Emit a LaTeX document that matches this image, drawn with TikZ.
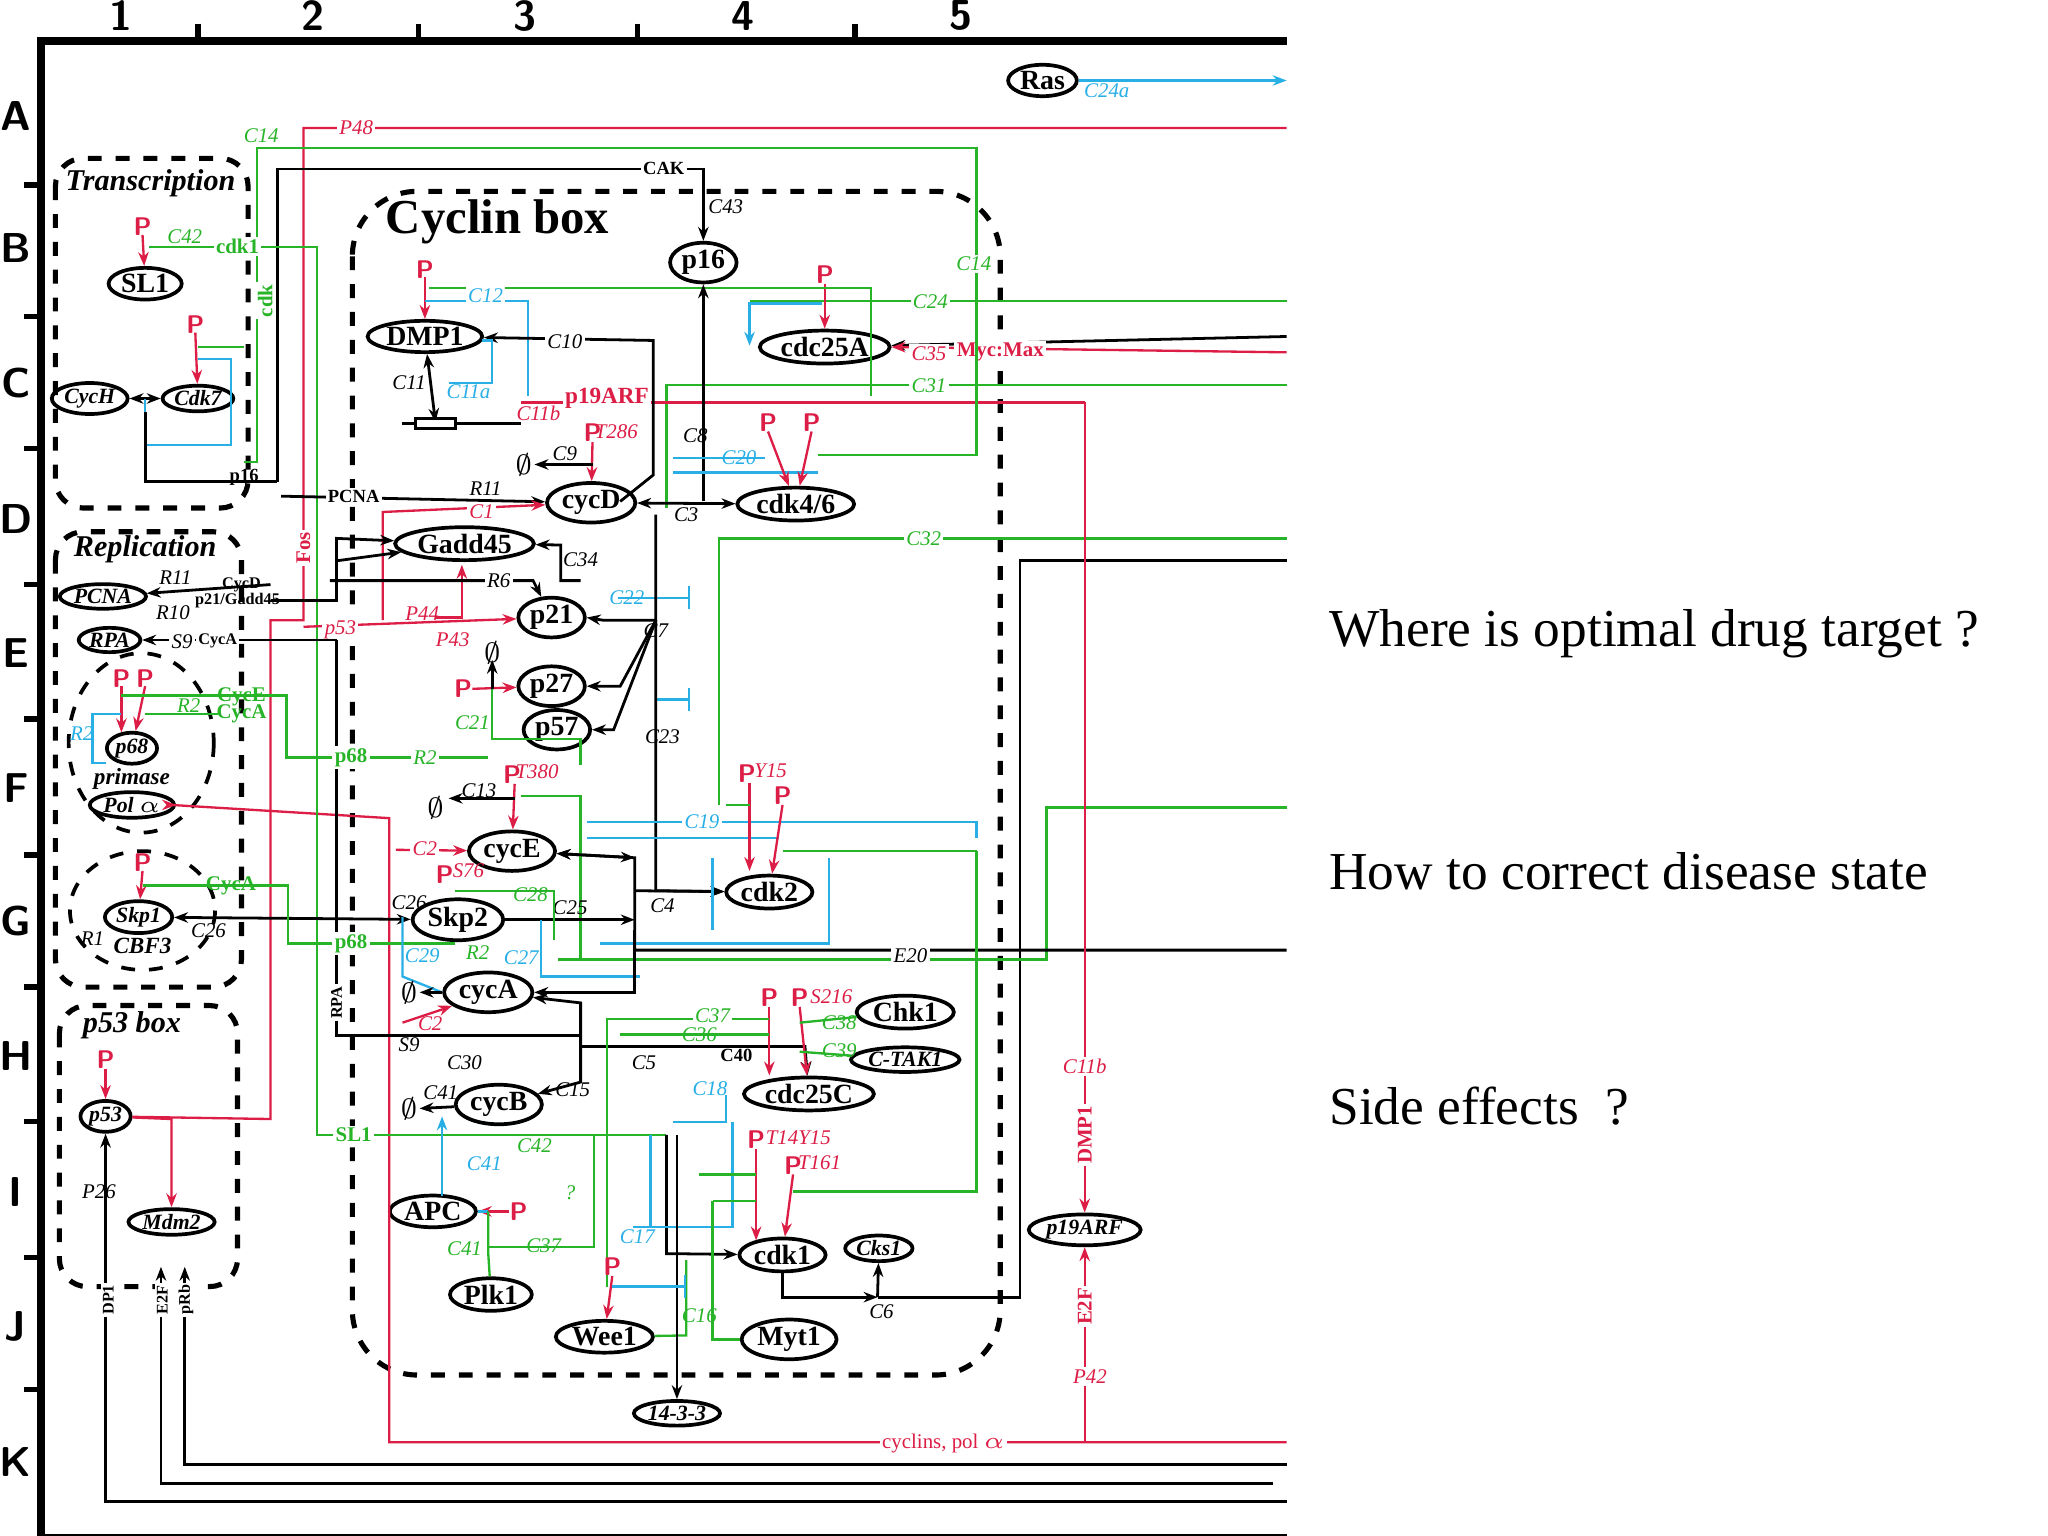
\documentclass[tikz,border=0pt]{standalone}
\usepackage{fontspec}
\setmainfont{Liberation Serif}
\usetikzlibrary{shapes.geometric,arrows.meta}
\definecolor{rr}{RGB}{220,30,70}
\definecolor{gg}{RGB}{40,180,40}
\definecolor{cc}{RGB}{40,175,230}
\newcommand{\degr}{$\emptyset$}
\tikzset{
 nd/.style={ellipse,draw,thick,inner sep=0.4pt,font=\fontsize{6}{7}\selectfont\bfseries},
 ndi/.style={ellipse,draw,thick,inner sep=0.3pt,font=\fontsize{4.7}{6}\selectfont\bfseries\itshape},
 lb/.style={font=\fontsize{4.5}{5}\selectfont\itshape,inner sep=0.5pt},
 lbr/.style={lb,text=rr},lbg/.style={lb,text=gg},lbc/.style={lb,text=cc},
 P/.style={text=rr,font=\fontsize{5.5}{6}\selectfont\bfseries\sffamily,inner sep=0.5pt},
 bl/.style={draw,line width=0.6pt,-{Stealth[length=3pt]}},
 rl/.style={draw=rr,line width=0.5pt,-{Stealth[length=3pt,open]}},
 gl/.style={draw=gg,line width=0.5pt},
 cl/.style={draw=cc,line width=0.5pt},
 dg/.style={font=\fontsize{6}{6}\selectfont,inner sep=0pt},
 box/.style={draw,dashed,line width=1.1pt,rounded corners=6pt},
 big/.style={font=\fontsize{11.5}{13}\selectfont,anchor=west},
 ax/.style={font=\fontsize{9}{10}\selectfont\bfseries\sffamily}
}
\begin{document}
\begin{tikzpicture}[x=0.01cm,y=-0.01cm]
\useasboundingbox[fill=white] (0,0) rectangle (1552,1164);
% frame
\draw[line width=1.6pt] (975,31) -- (31,31) -- (31,1165) -- (975,1165);
\foreach \x in {150,317,483,648} \draw[line width=1.2pt] (\x,18) -- (\x,31);
\foreach \y in {140,240,340,443,545,648,748,850,953,1053} \draw[line width=1.2pt] (18,\y) -- (31,\y);
\foreach \t/\x in {1/92,2/237,3/398,4/563,5/728} \node[ax] at (\x,12) {\t};
\foreach \t/\y in {A/88,B/188,C/290,D/393,E/495,F/597,G/698,H/800,I/903,J/1005,K/1108} \node[ax] at (12,\y) {\t};
% boxes
\draw[box] (42,120) rectangle (188,385);
\draw[box] (42,403) rectangle (183,748);
\draw[box] (45,762) rectangle (180,975);
\draw[box,rounded corners=14pt] (267,145) rectangle (758,1042);
\draw[dashed,thick] (107,563) ellipse (55 and 68);
\draw[dashed,thick] (108,690) ellipse (55 and 45);
\node[font=\fontsize{6.5}{7}\selectfont\bfseries\itshape] at (114,139) {Transcription};
\node[font=\fontsize{6.5}{7}\selectfont\bfseries\itshape] at (110,416) {Replication};
\node[font=\fontsize{6.5}{7}\selectfont\bfseries\itshape] at (100,777) {p53 box};
\node[font=\fontsize{10.5}{12}\selectfont\bfseries,anchor=west] at (280,168) {Cyclin box};
% right texts
\node[big] at (995,480) {Where is optimal drug target ?};
\node[big] at (995,660) {How to correct disease state};
\node[big] at (995,838) {Side effects\ \ ?};
% nodes
\node[nd] (Ras) at (790,61) {Ras};
\node[nd] (SL1) at (110,215) {SL1};
\node[ndi] (CycH) at (68,302) {CycH};
\node[ndi] (Cdk7) at (150,302) {Cdk7};
\node[nd] (DMP1) at (322,255) {DMP1};
\node[nd] (p16) at (533,199) {p16};
\node[nd] (cdc25A) at (625,263) {cdc25A};
\node[nd] (cycD) at (448,381) {cycD};
\node[nd] (cdk46) at (603,382) {cdk4/6};
\node[nd] (Gadd45) at (352,412) {Gadd45};
\node[nd] (p21) at (418,468) {p21};
\node[nd] (p27) at (418,520) {p27};
\node[nd] (p57) at (422,553) {p57};
\node[ndi] (PCNA) at (78,452) {PCNA};
\node[ndi] (RPA) at (83,485) {RPA};
\node[ndi] (p68) at (100,567) {p68};
\node[font=\fontsize{5}{6}\selectfont\bfseries\itshape] at (100,590) {primase};
\node[ndi] (Pol) at (100,610) {Pol $\alpha$};
\node[nd] (cycE) at (388,645) {cycE};
\node[nd] (cdk2) at (583,676) {cdk2};
\node[nd] (Skp2) at (347,697) {Skp2};
\node[ndi] (Skp1) at (105,695) {Skp1};
\node[font=\fontsize{5}{6}\selectfont\bfseries\itshape] at (108,717) {CBF3};
\node[lb] at (70,711) {R1};
\node[nd] (cycA) at (370,752) {cycA};
\node[nd] (Chk1) at (686,767) {Chk1};
\node[ndi] (CTAK) at (686,803) {C-TAK1};
\node[nd] (cdc25C) at (613,829) {cdc25C};
\node[nd] (cycB) at (378,837) {cycB};
\node[ndi] (p53) at (80,846) {p53};
\node[ndi] (Mdm2) at (130,926) {Mdm2};
\node[nd] (APC) at (328,918) {APC};
\node[nd] (Plk1) at (372,981) {Plk1};
\node[nd] (cdk1) at (593,951) {cdk1};
\node[ndi] (Cks1) at (666,946) {Cks1};
\node[nd] (Wee1) at (458,1013) {Wee1};
\node[nd] (Myt1) at (598,1015) {Myt1};
\node[ndi] (p1433) at (513,1071) {14-3-3};
\node[ndi] (p19) at (822,932) {p19ARF};
% long right-edge lines
\draw[cl,-{Stealth[length=3pt,open]}] (Ras) -- (860,61) node[lbc,below,pos=0.5]{C24a} -- (975,61);
\draw[rr,line width=0.5pt] (975,97) -- (230,97) -- (230,470) -- (205,470) -- (205,848) -- (p53);
\node[lbr,fill=white] at (270,97) {P48};
\node[lbr,fill=white,rotate=90,font=\fontsize{4.5}{5}\selectfont\bfseries] at (230,415) {Fos};
\draw[gl] (975,228) -- (568,228);
\draw[cl,-{Stealth[length=3pt,open]}] (623,230) -- (568,230) -- (568,262);
\node[lbg,fill=white] at (705,229) {C24};
\node[P] at (625,208) {P};
\draw[rl] (625,215) -- (cdc25A.north);
\draw[bl] (975,255) -- (cdc25A);
\draw[rl] (975,267) -- (cdc25A.east);
\node[lbr,fill=white,font=\fontsize{4.5}{5}\selectfont\bfseries] at (758,267) {Myc:Max};
\node[lbr,fill=white] at (704,268) {C35};
\draw[gl] (975,292) -- (505,292) -- (505,385);
\node[lbg,fill=white] at (704,292) {C31};
\draw[gl] (975,408) -- (545,408) -- (545,610);
\node[lbg,fill=white] at (700,408) {C32};
\draw[line width=0.6pt] (975,425) -- (773,425) -- (773,983) -- (665,983);
\draw[gl] (975,612) -- (793,612) -- (793,727) -- (423,727);
\draw[bl] (975,720) -- (481,720) -- (481,650) -- (cycE);
\node[lb,fill=white] at (690,724) {E20};
\draw[rl] (975,1093) -- (295,1093) -- (295,620) -- (130,610) -- (Pol);
\node[lbr,fill=white,font=\fontsize{4.5}{5}\selectfont] at (715,1094) {cyclins, pol $\alpha$};
\draw[bl] (975,1110) -- (140,1110) -- (140,960);
\draw[bl] (975,1138) -- (80,1138) -- (p53);
\draw[bl] (965,1124) -- (122,1124) -- (122,960);
\node[lb,rotate=90,fill=white,font=\fontsize{3.5}{4}\selectfont\bfseries] at (82,985) {DP1};
\node[lb,rotate=90,fill=white,font=\fontsize{3.5}{4}\selectfont\bfseries] at (123,985) {E2F};
\node[lb,rotate=90,fill=white,font=\fontsize{3.5}{4}\selectfont\bfseries] at (141,985) {pRb};
% p19ARF
\draw[rr,line width=0.5pt] (395,305) -- (822,305);
\draw[rl] (822,305) -- (p19);
\node[lbr,fill=white,font=\fontsize{5}{6}\selectfont\bfseries] at (460,302) {p19ARF};
\node[lbr,fill=white] at (822,808) {C11b};
\node[lbr,fill=white,rotate=90,font=\fontsize{4.5}{5}\selectfont\bfseries] at (822,860) {DMP1};
\draw[rl] (822,1093) -- (p19);
\node[lbr,fill=white,rotate=90,font=\fontsize{4.5}{5}\selectfont\bfseries] at (822,990) {E2F};
\node[lbr,fill=white] at (826,1043) {P42};
% green C14 top
\draw[gl] (185,350) -- (195,350) -- (195,112) -- (740,112) -- (740,345) -- (620,345);
\node[lbg,fill=white] at (198,103) {C14};
\node[lbg,fill=white] at (738,200) {C14};
% CAK
\draw[bl] (210,365) -- (210,128) -- (533,128) -- (p16);
\node[lb,fill=white,font=\fontsize{4}{5}\selectfont\bfseries] at (503,128) {CAK};
\node[lb] at (550,157) {C43};
% Transcription
\node[P] at (108,172) {P}; \draw[rl] (108,178) -- (SL1);
\draw[gl] (113,187) -- (240,187) -- (240,860) -- (505,860);
\node[lbg] at (140,179) {C42};
\node[lbg,fill=white,font=\fontsize{4.5}{5}\selectfont\bfseries] at (180,187) {cdk1};
\node[lbg,fill=white,font=\fontsize{4.5}{5}\selectfont\bfseries] at (268,860) {SL1};
\node[lbg,fill=white,rotate=90,font=\fontsize{4.5}{5}\selectfont\bfseries] at (201,228) {cdk};
\draw[{Stealth[length=3pt]}-{Stealth[length=3pt]},line width=0.6pt] (CycH) -- (Cdk7);
\node[P] at (148,246) {P}; \draw[rl] (148,252) -- (Cdk7);
\draw[gl] (150,263) -- (185,263);
\draw[cl] (150,272) -- (175,272) -- (175,337) -- (110,337) -- (110,302);
\draw[line width=0.6pt] (110,312) -- (110,365) -- (210,365);
\node[lb,font=\fontsize{4}{5}\selectfont\bfseries] at (185,362) {p16};
% DMP1 region
\node[P] at (322,204) {P}; \draw[rl] (322,210) -- (DMP1);
\draw[gl] (325,218) -- (660,218) -- (660,300);
\draw[cl] (322,228) -- (400,228) -- (400,300);
\node[lbc,fill=white] at (368,224) {C12};
\draw[bl] (470,380) -- (495,360) -- (495,258) -- (DMP1);
\node[lb,fill=white] at (428,259) {C10};
\draw[cl] (365,258) -- (373,258) -- (373,290) -- (340,290);
\node[lbc] at (355,297) {C11a};
\draw[{Stealth[length=3pt]}-{Stealth[length=3pt]},line width=0.6pt] (DMP1) -- (330,320);
\node[lb] at (310,290) {C11};
\draw[line width=0.8pt] (305,321) -- (395,321); \draw[fill=white,line width=0.6pt] (315,317) rectangle (345,325);
\node[lbr] at (408,313) {C11b};
% cycD region
\node[P] at (449,328) {P}; \node[lbr] at (467,327) {T286};
\draw[rl] (449,335) -- (cycD);
\draw[bl] (449,352) -- (405,352); \node[dg] at (397,352) {\degr};
\node[lb] at (428,344) {C9};
\draw[bl] (213,376) -- (cycD);
\node[lb,fill=white,font=\fontsize{4}{5}\selectfont\bfseries] at (268,376) {PCNA};
\node[lb] at (368,370) {R11};
\draw[rl] (290,470) -- (290,388) -- (cycD);
\node[lbr,fill=white] at (365,388) {C1};
\draw[{Stealth[length=3pt]}-{Stealth[length=3pt]},line width=0.6pt] (cycD) -- (cdk46);
\node[lb] at (520,390) {C3};
\draw[bl] (533,380) -- (p16);
\node[lb] at (527,330) {C8};
\draw[cl] (510,347) -- (580,347); \draw[cl] (510,358) -- (620,358);
\node[lbc] at (560,347) {C20};
\node[P] at (582,320) {P}; \draw[rl] (582,327) -- (cdk46);
\node[P] at (615,320) {P}; \draw[rl] (615,327) -- (cdk46);
% Gadd45, p21 etc
\draw[bl] (205,455) -- (255,455) -- (255,408) -- (Gadd45);
\draw[bl] (255,425) -- (Gadd45);
\draw[bl] (440,440) -- (425,440) -- (425,413) -- (Gadd45);
\node[lb] at (440,424) {C34};
\draw[rl] (330,468) -- (350,468) -- (350,428);
\draw[bl] (250,440) -- (404,440) -- (p21);
\node[lb,fill=white] at (378,440) {R6};
\node[lbr] at (320,465) {P44};
\draw[rl] (230,475) -- (p21);
\node[lbr,fill=white] at (258,477) {p53};
\node[lbr] at (343,485) {P43};
\draw[cl,-|] (468,453) -- (523,453); \node[lbc] at (475,453) {C22};
\draw[bl] (497,390) -- (497,470) -- (457,470) -- (p21.east);
\draw[bl] (497,470) -- (470,520) -- (p27.east);
\draw[bl] (497,470) -- (465,553) -- (p57.east);
\node[lb] at (497,478) {C7};
\draw[cl,-|] (497,530) -- (523,530);
\node[lb] at (502,558) {C23};
\node[P] at (351,522) {P}; \draw[rl] (358,522) -- (p27);
\draw[bl] (373,522) -- (373,500); \node[dg] at (373,495) {\degr};
\draw[gl] (373,522) -- (373,560) -- (440,560) -- (440,580);
\node[lbg] at (358,548) {C21};
\draw[bl] (497,470) -- (497,675) -- (cdk2);
% replication
\draw[bl] (205,443) -- (PCNA); \node[lb] at (133,438) {R11}; \node[lb] at (131,464) {R10};
\node[lb,font=\fontsize{3.5}{4}\selectfont\bfseries] at (183,443) {CycD};
\node[lb,font=\fontsize{3.5}{4}\selectfont\bfseries] at (180,455) {p21/Gadd45};
\draw[bl] (255,485) -- (RPA); \node[lb,fill=white] at (138,486) {S9}; \node[lb,fill=white,font=\fontsize{3.5}{4}\selectfont\bfseries] at (165,486) {CycA};
\draw[line width=0.6pt] (255,485) -- (255,785) -- (440,785);
\node[lb,rotate=90,fill=white,font=\fontsize{3.5}{4}\selectfont\bfseries] at (255,760) {RPA};
\node[lb] at (310,792) {S9};
\node[P] at (92,514) {P}; \node[P] at (110,514) {P};
\draw[rl] (92,520) -- (92,555); \draw[rl] (110,520) -- (p68);
\draw[gl] (92,527) -- (217,527) -- (217,574) -- (370,574);
\draw[gl] (110,541) -- (165,541);
\node[lbg,font=\fontsize{4.5}{5}\selectfont\bfseries] at (183,528) {CycE};
\node[lbg,font=\fontsize{4.5}{5}\selectfont\bfseries] at (183,541) {CycA};
\node[lbg] at (143,535) {R2};
\draw[cl] (92,541) -- (70,541) -- (70,578) -- (80,578);
\node[lbc] at (62,556) {R2};
\node[lbg,fill=white,font=\fontsize{4.5}{5}\selectfont\bfseries] at (266,574) {p68};
\node[lbg,fill=white] at (322,574) {R2};
% cycE
\node[P] at (388,587) {P}; \node[lbr] at (407,585) {T380};
\draw[rl] (390,594) -- (cycE);
\draw[gl] (395,603) -- (440,603) -- (440,727);
\draw[bl] (390,605) -- (340,605); \node[dg] at (330,612) {\degr};
\node[lb] at (363,599) {C13};
\draw[rl] (300,644) -- (cycE); \node[lbr,fill=white] at (322,643) {C2};
\draw[{Stealth[length=3pt]}-{Stealth[length=3pt]},line width=0.6pt] (cycE) -- (481,650);
\draw[bl] (481,675) -- (cdk2);
\node[lb] at (502,686) {C4};
\draw[cl] (445,623) -- (740,623) -- (740,635);
\draw[cl] (445,635) -- (590,635);
\node[lbc,fill=white] at (532,623) {C19};
\node[P] at (566,586) {P}; \node[lbr] at (584,584) {Y15};
\node[P] at (593,603) {P};
\draw[rl] (568,593) -- (568,660); \draw[rl] (593,610) -- (cdk2);
\draw[gl] (550,610) -- (568,610);
\draw[gl] (593,645) -- (740,645);
\draw[cl] (540,650) -- (540,705); \draw[cl] (628,650) -- (628,715) -- (455,715);
% Skp2
\draw[{Stealth[length=3pt]}-{Stealth[length=3pt]},line width=0.6pt] (Skp1) -- (Skp2);
\draw[bl] (Skp2) -- (481,697);
\node[lb] at (432,688) {C25};
\node[P] at (337,663) {P}; \node[lbr] at (355,660) {S76};
\draw[gl] (345,675) -- (420,675) -- (420,712);
\node[lbg] at (402,678) {C28};
\node[lb] at (310,684) {C26};
\node[lb] at (158,705) {C26};
\node[P] at (108,654) {P}; \draw[rl] (108,660) -- (Skp1);
\draw[gl] (108,671) -- (218,671) -- (218,715) -- (345,715);
\node[lbg,font=\fontsize{4.5}{5}\selectfont\bfseries] at (175,671) {CycA};
\node[lbg,fill=white,font=\fontsize{4.5}{5}\selectfont\bfseries] at (266,715) {p68};
\node[lbg] at (362,722) {R2};
\node[lbc] at (320,724) {C29};
\node[lbc] at (395,726) {C27};
\draw[cl] (305,695) -- (305,740) -- (335,752);
\draw[cl] (410,697) -- (410,740) -- (485,740);
% cycA
\draw[bl] (cycA) -- (318,752); \node[dg] at (310,752) {\degr};
\draw[rl] (305,775) -- (335,765) -- (cycA); \node[lbr] at (326,776) {C2};
\draw[bl] (481,705) -- (481,752) -- (cycA);
\draw[bl] (440,785) -- (440,760) -- (cycA);
\node[lb] at (352,805) {C30};
\draw[bl] (440,785) -- (440,820) -- (cycB);
\node[lb] at (434,826) {C15};
\draw[bl] (440,793) -- (610,793) -- (cdc25C);
\node[lb,font=\fontsize{4}{5}\selectfont\bfseries] at (558,800) {C40};
\node[lb] at (488,805) {C5};
% cdc25C
\node[P] at (583,756) {P}; \node[P] at (606,756) {P}; \node[lbr] at (630,755) {S216};
\draw[rl] (583,763) -- (583,815); \draw[rl] (606,763) -- (cdc25C);
\draw[gl] (Chk1) -- (606,775); \node[lbg] at (636,775) {C38};
\draw[gl] (CTAK) -- (606,797); \node[lbg] at (636,796) {C39};
\draw[gl] (583,772) -- (460,772) -- (460,975);
\node[lbg,fill=white] at (540,770) {C37};
\node[lbg,fill=white] at (530,784) {C36};
\draw[gl] (583,784) -- (470,784);
\draw[cl] (550,830) -- (550,850) -- (510,850);
\node[lbc] at (538,825) {C18};
% cdk1
\node[P] at (573,864) {P}; \node[lbr] at (605,862) {T14Y15};
\node[P] at (601,883) {P}; \node[lbr] at (621,881) {T161};
\draw[rl] (573,871) -- (573,940); \draw[rl] (601,890) -- (cdk1);
\draw[gl] (601,903) -- (740,903) -- (740,645);
\draw[bl] (505,860) -- (505,950) -- (cdk1);
\draw[bl] (cdk1) -- (593,983) -- (665,983);
\draw[bl] (665,983) -- (Cks1);
\node[lb] at (668,994) {C6};
\draw[cl] (480,930) -- (555,930) -- (555,850);
\draw[cl] (493,860) -- (493,930);
\node[lbc] at (483,937) {C17};
\draw[gl] (520,955) -- (520,1012) -- (Wee1);
\draw[gl] (540,910) -- (540,1015) -- (Myt1);
\draw[gl] (530,890) -- (573,890); \draw[gl] (540,910) -- (573,910);
\node[lbg] at (530,997) {C16};
\draw[bl] (513,860) -- (p1433);
\node[P] at (464,960) {P}; \draw[rl] (464,967) -- (Wee1);
\draw[cl,-|] (464,975) -- (520,975);
% cycB, APC
\draw[bl] (cycB) -- (318,840); \node[dg] at (310,840) {\degr};
\node[lb] at (334,828) {C41};
\draw[cl,-{Stealth[length=3pt,open]}] (335,906) -- (335,846);
\node[lbc] at (367,882) {C41};
\node[P] at (393,918) {P}; \draw[rl] (386,918) -- (APC);
\draw[cl] (370,918) -- (APC);
\draw[gl] (370,918) -- (370,950) -- (Plk1);
\draw[gl] (370,945) -- (450,945) -- (450,860);
\node[lbg] at (352,946) {C41};
\node[lbg] at (412,944) {C37};
\node[lbg] at (405,868) {C42};
\node[lbg] at (432,904) {?};
% p53 box
\node[P] at (80,803) {P}; \draw[rl] (80,810) -- (p53);
\draw[rl] (p53) -- (130,848) -- (Mdm2);
\node[lb] at (75,903) {P26};
\end{tikzpicture}
\end{document}
